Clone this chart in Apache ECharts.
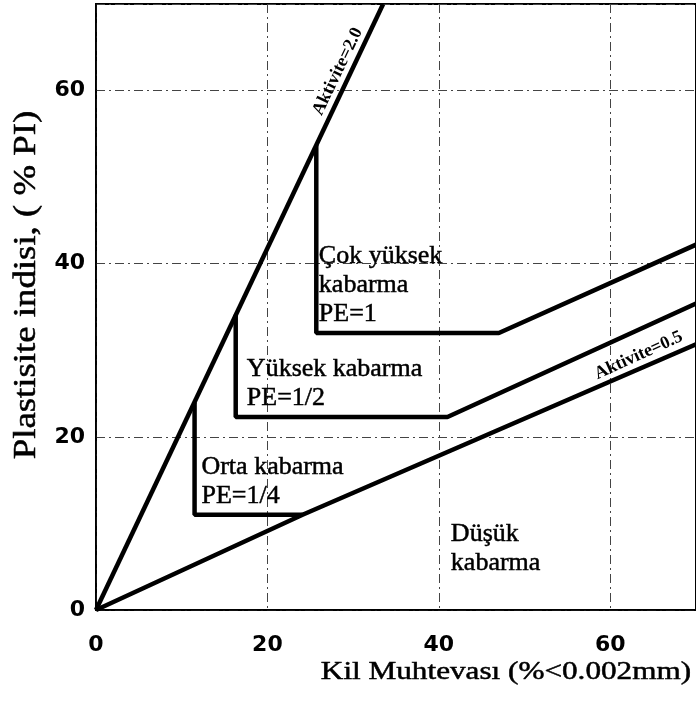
<!DOCTYPE html>
<html>
<head>
<meta charset="utf-8">
<script src="https://cdn.jsdelivr.net/npm/echarts@6/dist/echarts.min.js"></script>
<style>
html,body{margin:0;padding:0;background:#fff;}
#chart{width:696px;height:704px;}
</style>
</head>
<body>
<div id="chart"></div>
<script>
// ---- data ----
const xTicks = [0, 20, 40, 60];
const yTicks = [0, 20, 40, 60];
const aktivite2 = [[0, 0], [33.5, 70]];
const aktivite05 = [[0, 0], [24.1, 11.0], [70, 30.7]];
const orta = [[11.5, 24.0], [11.5, 11.0], [24.1, 11.0]];
const yuksek = [[16.3, 34.1], [16.3, 22.3], [41.0, 22.3], [70, 35.4]];
const cokYuksek = [[25.7, 53.7], [25.7, 32.0], [47.0, 32.0], [70, 42.2]];
const regionTexts = ['Çok yüksek\nkabarma\nPE=1', 'Yüksek kabarma\nPE=1/2', 'Orta kabarma\nPE=1/4', 'Düşük\nkabarma'];
const regionAnchors = [[26.0, 42.5], [17.6, 29.5], [12.3, 18.2], [41.4, 10.4]];
const lineTexts = ['Aktivite=2.0', 'Aktivite=0.5'];
const lineAnchors = [[28.2, 62.2], [63.3, 29.4]];
const lineAngles = [64.5, 24.5];
const xName = 'Kil Muhtevası (%<0.002mm)';
const yName = 'Plastisite indisi, ( % PI)';

const chart = echarts.init(document.getElementById('chart'), null, {renderer: 'canvas'});
const thick = {color: '#000', width: 4.5};
function lineSeries(data) {
  return {type: 'line', data: data, symbol: 'none', lineStyle: thick, silent: true, animation: false, z: 5};
}
const serif = 'Liberation Serif';
const option = {
  backgroundColor: '#fff',
  animation: false,
  grid: {left: 96, top: 4, width: 604, height: 606, show: true, borderColor: '#000', borderWidth: 2, backgroundColor: 'transparent'},
  xAxis: {
    type: 'value', min: 0, max: 70, interval: 20,
    axisLine: {show: true, lineStyle: {color: '#000', width: 1.5}},
    axisTick: {show: false},
    axisLabel: {
      show: true, margin: 24, color: '#000', fontFamily: 'DejaVu Sans', fontWeight: 'bold', fontSize: 22, showMaxLabel: false,
      formatter: function (v) { return xTicks.indexOf(v) >= 0 ? String(v) : ''; }
    },
    splitLine: {show: true, lineStyle: {color: '#444', width: 1, type: [9, 4, 2, 4]}}
  },
  yAxis: {
    type: 'value', min: 0, max: 70, interval: 20,
    axisLine: {show: true, lineStyle: {color: '#000', width: 1.5}},
    axisTick: {show: false},
    axisLabel: {
      show: true, margin: 11, color: '#000', fontFamily: 'DejaVu Sans', fontWeight: 'bold', fontSize: 22, showMaxLabel: false,
      formatter: function (v) { return yTicks.indexOf(v) >= 0 ? String(v) : ''; }
    },
    splitLine: {show: true, lineStyle: {color: '#444', width: 1, type: [9, 4, 2, 4]}}
  },
  series: [
    lineSeries(aktivite2),
    lineSeries(aktivite05),
    lineSeries(orta),
    lineSeries(yuksek),
    lineSeries(cokYuksek),
    {
      type: 'scatter', symbolSize: 0, silent: true, clip: false, z: 6,
      itemStyle: {opacity: 1},
      data: regionAnchors.map(function (p, i) { return {value: p, name: regionTexts[i]}; }),
      label: {
        show: true, position: [0, 0], align: 'left', verticalAlign: 'top', opacity: 1,
        formatter: function (p) { return p.name; },
        fontFamily: serif, fontSize: 26, lineHeight: 29, color: '#000',
        textBorderColor: '#000', textBorderWidth: 0.5
      }
    },
    {
      type: 'scatter', symbolSize: 0, silent: true, clip: false, z: 6,
      itemStyle: {opacity: 1},
      data: lineAnchors.map(function (p, i) {
        return {value: p, name: lineTexts[i], label: {rotate: lineAngles[i]}};
      }),
      label: {
        show: true, position: [0, 0], align: 'center', verticalAlign: 'middle', opacity: 1,
        formatter: function (p) { return p.name; },
        fontFamily: serif, fontWeight: 'bold', fontSize: 18, color: '#000'
      }
    }
  ],
  graphic: [
    {
      type: 'text', x: 506, y: 672, scaleX: 1.2, z: 10,
      style: {text: xName, font: '26px "Liberation Serif"', fill: '#000', stroke: '#000', lineWidth: 0.5, align: 'center', verticalAlign: 'middle', textAlign: 'center', textVerticalAlign: 'middle'}
    },
    {
      type: 'text', x: 27, y: 285, rotation: Math.PI / 2, scaleX: 1.15, z: 10,
      style: {text: yName, font: '32px "Liberation Serif"', fill: '#000', stroke: '#000', lineWidth: 0.5, align: 'center', verticalAlign: 'middle', textAlign: 'center', textVerticalAlign: 'middle'}
    }
  ]
};
chart.setOption(option);
</script>
</body>
</html>
